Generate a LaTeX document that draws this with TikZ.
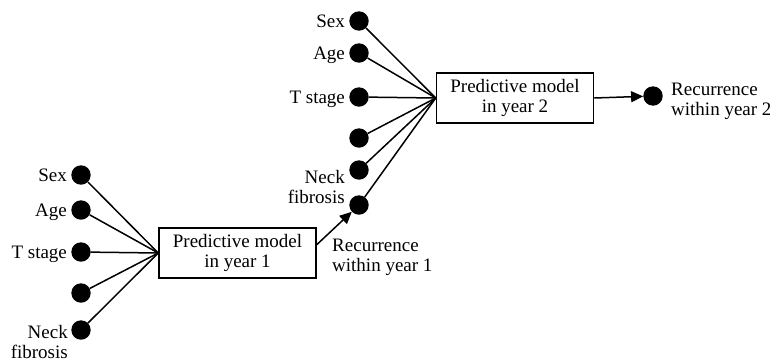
\documentclass[tikz,border=0pt]{standalone}
\usepackage{fontspec}
\setmainfont{Liberation Serif}
\usetikzlibrary{positioning,arrows.meta}

\begin{document}
\begin{tikzpicture}[x=1pt,y=-1pt,
	every node/.style={font=\fontsize{19pt}{20pt}\selectfont},
	dot/.style={circle,fill=black,minimum size=19.4pt,inner sep=0pt},
	lbl/.style={inner sep=0pt,text height=12.6pt,text depth=0pt},
	lbltwo/.style={inner sep=0pt,align=right},
	model/.style={draw,line width=1.5pt,minimum width=157pt,minimum height=50pt,align=center,inner sep=0pt},
	link/.style={line width=1.5pt},
	toarrow/.style={line width=1.5pt,-{Triangle[length=12pt,width=11pt]}}]
	\useasboundingbox (0,0) rectangle (770,362);
	% year 1
	\node[model] (model1) at (237.5,253) {Predictive model\\in year 1};
	\node[dot] (sex1) at (81,175) {};
	\node[dot] (age1) at (81,210) {};
	\node[dot] (tstage1) at (81,252) {};
	\node[dot] (other1) at (81,293) {};
	\node[dot] (neck1) at (81,330) {};
	\node[lbl,left=4pt of sex1] (sex1lbl) {Sex};
	\node[lbl,left=4pt of age1] (age1lbl) {Age};
	\node[lbl,left=4pt of tstage1] (tstage1lbl) {T stage};
	\node[lbltwo,anchor=north east] (neck1lbl) at (68,325) {Neck\\fibrosis};
	\draw[link] (sex1) -- (model1.west);
	\draw[link] (age1) -- (model1.west);
	\draw[link] (tstage1) -- (model1.west);
	\draw[link] (other1) -- (model1.west);
	\draw[link] (neck1) -- (model1.west);
	% year 2
	\node[model] (model2) at (515,98) {Predictive model\\in year 2};
	\node[dot] (sex2) at (359,21) {};
	\node[dot] (age2) at (359,53) {};
	\node[dot] (tstage2) at (359,97) {};
	\node[dot] (other2) at (359,138) {};
	\node[dot] (neck2) at (359,170) {};
	\node[dot] (rec1) at (359,205) {};
	\node[lbl,left=4pt of sex2] (sex2lbl) {Sex};
	\node[lbl,left=4pt of age2] (age2lbl) {Age};
	\node[lbl,left=4pt of tstage2] (tstage2lbl) {T stage};
	\node[lbltwo,anchor=north east] (neck2lbl) at (345,170) {Neck\\fibrosis};
	\node[lbltwo,align=left,anchor=north west] (rec1lbl) at (332,239) {Recurrence\\within year 1};
	\draw[link] (sex2) -- (model2.west);
	\draw[link] (age2) -- (model2.west);
	\draw[link] (tstage2) -- (model2.west);
	\draw[link] (other2) -- (model2.west);
	\draw[link] (neck2) -- (model2.west);
	\draw[link] (rec1) -- (model2.west);
	\draw[toarrow] (model1.6) -- (rec1);
	% outcome
	\node[dot] (rec2) at (653,96) {};
	\node[lbltwo,align=left,anchor=north west] (rec2lbl) at (671,83) {Recurrence\\within year 2};
	\draw[toarrow] (model2.east) -- (rec2);
\end{tikzpicture}
\end{document}
